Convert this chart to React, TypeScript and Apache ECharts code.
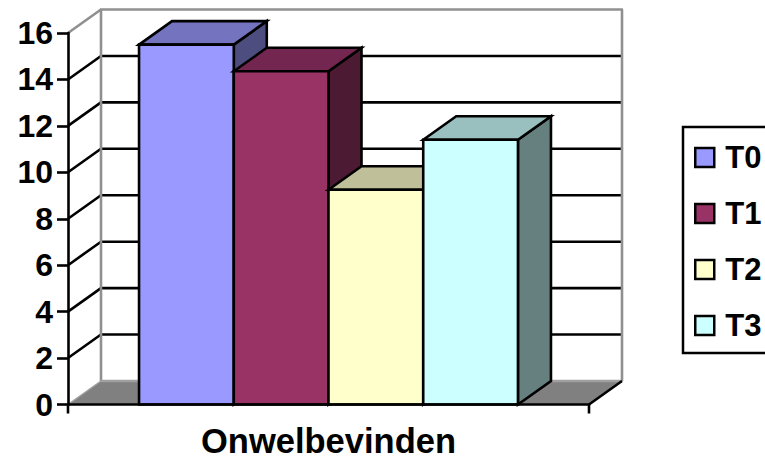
import React, { useEffect, useRef } from "react";
import * as echarts from "echarts";

const category = ["Onwelbevinden"];
const seriesNames = ["T0", "T1", "T2", "T3"];
const seriesValues = [15.5, 14.35, 9.25, 11.4];
const yTicks = [0, 2, 4, 6, 8, 10, 12, 14, 16];
const frontColors = ["#9999FF", "#993366", "#FFFFCC", "#CCFFFF"];
const topColors = ["#7373BF", "#732650", "#BFBF99", "#99BFBF"];
const sideColors = ["#4D4D80", "#4D1A33", "#808066", "#668080"];

const DX = 33;
const DY = -23.5;
const FONT = "Liberation Sans";
const EDGE = 2.6;
const X_TICK = 9;

function poly(points: number[][], fill: string, stroke: string, lw = EDGE) {
  return {
    type: "polygon",
    shape: { points },
    style: { fill, stroke, lineWidth: lw, lineJoin: "miter" },
  };
}
function seg(a: number[], b: number[], stroke: string, lw = EDGE) {
  return {
    type: "line",
    shape: { x1: a[0], y1: a[1], x2: b[0], y2: b[1] },
    style: { stroke, lineWidth: lw, lineCap: "butt" },
  };
}

function renderWalls(_: any, api: any) {
  const c = api.coord([0, 0]);
  const band = api.size([1, 0])[0];
  const left = c[0] - band / 2;
  const right = c[0] + band / 2;
  const y0 = c[1];
  const yTop = api.coord([0, yTicks[yTicks.length - 1]])[1];
  const children: any[] = [];
  children.push(
    poly(
      [
        [left, y0],
        [left + DX, y0 + DY],
        [right + DX, y0 + DY],
        [right, y0],
      ],
      "#808080",
      "none",
      0
    )
  );
  yTicks.slice(1, -1).forEach((t) => {
    const y = api.coord([0, t])[1];
    children.push(seg([left + DX, y + DY], [right + DX, y + DY], "#000000"));
    children.push(seg([left, y], [left + DX, y + DY], "#000000"));
  });
  children.push(seg([left, yTop], [left + DX, yTop + DY], "#909090"));
  children.push(seg([left + DX - 1, yTop + DY], [right + DX + 1, yTop + DY], "#909090"));
  children.push(seg([left + DX, yTop + DY], [left + DX, y0 + DY], "#909090"));
  children.push(seg([right + DX, yTop + DY], [right + DX, y0 + DY], "#909090"));
  children.push(seg([left + DX, y0 + DY], [right + DX, y0 + DY], "#A0A0A0"));
  children.push(seg([left, y0], [left + DX, y0 + DY], "#A0A0A0", 1.5));
  children.push(seg([right, y0], [right + DX, y0 + DY], "#000000"));
  // Category boundary ticks of the single band, below the axis line.
  children.push(seg([left, y0], [left, y0 + X_TICK], "#000000"));
  children.push(seg([right, y0], [right, y0 + X_TICK], "#000000"));
  return { type: "group", children };
}

function renderBar(index: number) {
  return (_: any, api: any) => {
    const c = api.coord([0, api.value(1)]);
    const band = api.size([1, 0])[0];
    const w = band / (seriesValues.length + 1.5);
    const x0 = c[0] - band / 2 + w * (0.75 + index);
    const x1 = x0 + w;
    const yT = c[1];
    const yB = api.coord([0, 0])[1];
    return {
      type: "group",
      children: [
        poly(
          [
            [x1, yT],
            [x1 + DX, yT + DY],
            [x1 + DX, yB + DY],
            [x1, yB],
          ],
          sideColors[index],
          "#000000"
        ),
        poly(
          [
            [x0, yT],
            [x0 + DX, yT + DY],
            [x1 + DX, yT + DY],
            [x1, yT],
          ],
          topColors[index],
          "#000000"
        ),
        poly(
          [
            [x0, yT],
            [x1, yT],
            [x1, yB],
            [x0, yB],
          ],
          frontColors[index],
          "#000000"
        ),
      ],
    };
  };
}

export default function App() {
  const ref = useRef<HTMLDivElement>(null);
  useEffect(() => {
    const chart = echarts.init(ref.current!, null, { renderer: "svg" });
    chart.setOption({
      animation: false,
      backgroundColor: "#FFFFFF",
      textStyle: { fontFamily: FONT },
      grid: { left: 68, right: 176, top: 33, bottom: 51.5, outerBoundsMode: "none" },
      legend: {
        orient: "vertical",
        left: 683,
        top: 127,
        padding: [15, 8, 12, 11],
        itemWidth: 19,
        itemHeight: 19,
        itemGap: 25,
        borderColor: "#000000",
        borderWidth: 2.5,
        backgroundColor: "#FFFFFF",
        selectedMode: false,
        textStyle: {
          fontFamily: FONT,
          fontWeight: "bold",
          fontSize: 31,
          color: "#000000",
          padding: [0, 0, 0, 6],
        },
        data: seriesNames.map((name, i) => ({
          name,
          icon: "rect",
          itemStyle: { color: frontColors[i], borderColor: "#000000", borderWidth: 2.5 },
        })),
      },
      xAxis: {
        type: "category",
        data: category,
        z: 6,
        axisLine: { lineStyle: { color: "#000000", width: 2.6 } },
        axisTick: { show: false },
        axisLabel: {
          fontFamily: FONT,
          fontWeight: "bold",
          fontSize: 34.5,
          lineHeight: 28,
          color: "#000000",
          margin: 22,
        },
      },
      yAxis: {
        type: "value",
        min: 0,
        max: 16,
        interval: 2,
        z: 6,
        splitLine: { show: false },
        axisLine: { show: true, lineStyle: { color: "#000000", width: 2.6 } },
        axisTick: { show: true, length: 11, lineStyle: { color: "#000000", width: 2.6 } },
        axisLabel: {
          fontFamily: FONT,
          fontWeight: "bold",
          fontSize: 32,
          color: "#000000",
          margin: 15,
        },
      },
      series: [
        {
          type: "custom",
          name: "walls",
          z: 1,
          silent: true,
          clip: false,
          renderItem: renderWalls,
          encode: { x: 0, y: 1 },
          data: [[0, 0]],
        },
        ...seriesNames.map((name, i) => ({
          type: "custom",
          name,
          z: 2 + i,
          clip: false,
          renderItem: renderBar(i),
          encode: { x: 0, y: 1 },
          itemStyle: { color: frontColors[i] },
          data: [[0, seriesValues[i]]],
        })),
      ],
    });
    return () => chart.dispose();
  }, []);
  return (
    <div
      ref={ref}
      style={{ position: "fixed", left: 0, top: 0, width: 765, height: 456 }}
    />
  );
}
